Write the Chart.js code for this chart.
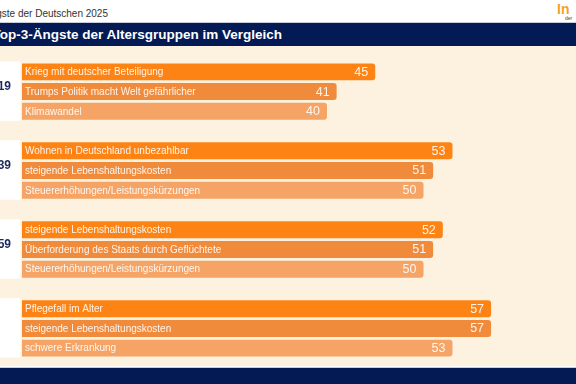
<!DOCTYPE html>
<html lang="de">
<head>
<meta charset="utf-8">
<title>Top-3-Ängste der Altersgruppen im Vergleich</title>
<script src="https://cdn.jsdelivr.net/npm/chart.js@4"></script>
<style>
  html, body { margin: 0; padding: 0; }
  body { width: 576px; height: 384px; overflow: hidden; position: relative; background: #fff;
         font-family: "Liberation Sans", Arial, sans-serif; }
  #sub { position: absolute; right: 468px; top: 9px; font-size: 10px; line-height: 10px; color: #333; white-space: nowrap; }
  #logo { position: absolute; left: 557px; top: 2px; font-size: 14px; line-height: 14px; font-weight: bold; color: #f5a21f; }
  #logo2 { position: absolute; left: 565px; top: 16px; font-size: 5px; line-height: 5px; color: #444; }
  #band { position: absolute; left: 0; top: 22px; width: 576px; height: 24px; background: #031a55; border-top: 1px solid #c9cdd9; box-sizing: border-box; }
  #title { position: absolute; right: 294px; top: 28px; font-size: 13.5px; line-height: 13px; font-weight: bold; color: #fff; white-space: nowrap; }
  #panel { position: absolute; left: 0; top: 46px; width: 576px; height: 320px; background: #fdf1df; }
  #foot { position: absolute; left: 0; top: 367px; width: 576px; height: 17px; background: #031a55; border-top: 1px solid #c9cdd9; box-sizing: border-box; }
</style>
</head>
<body>
<div id="sub">Ängste der Deutschen 2025</div>
<div id="logo">In</div>
<div id="logo2">der</div>
<div id="band"></div>
<div id="title">Top-3-Ängste der Altersgruppen im Vergleich</div>
<div id="panel"><canvas id="chart" width="576" height="320"></canvas></div>
<div id="foot"></div>
<script>
// Altersgruppen (nur der sichtbare Teil)
const groups = ['19', '39', '59', ''];

const fears19 = ['Krieg mit deutscher Beteiligung', 'Trumps Politik macht Welt gefährlicher', 'Klimawandel'];
const fears39 = ['Wohnen in Deutschland unbezahlbar', 'steigende Lebenshaltungskosten', 'Steuererhöhungen/Leistungskürzungen'];
const fears59 = ['steigende Lebenshaltungskosten', 'Überforderung des Staats durch Geflüchtete', 'Steuererhöhungen/Leistungskürzungen'];
const fearsOld = ['Pflegefall im Alter', 'steigende Lebenshaltungskosten', 'schwere Erkrankung'];

const values19 = [45, 41, 40];
const values39 = [53, 51, 50];
const values59 = [52, 51, 50];
const valuesOld = [57, 57, 53];

const rankColors = ['#fd8414', '#f18b3c', '#f5a465'];

const fearLists = [fears19, fears39, fears59, fearsOld];
const valueLists = [values19, values39, values59, valuesOld];

// zeilen bauen, leere zeile zwischen den gruppen
let rowLabels = [];
let rowValues = [];
let rowColors = [];
let rowGroup = [];
for (let g = 0; g < groups.length; g++) {
    for (let r = 0; r < 3; r++) {
        rowLabels.push(fearLists[g][r]);
        rowValues.push(valueLists[g][r]);
        rowColors.push(rankColors[r]);
        rowGroup.push(g);
    }
    if (g < groups.length - 1) {
        rowLabels.push('');
        rowValues.push(null);
        rowColors.push('rgba(0,0,0,0)');
        rowGroup.push(-1);
    }
}

const FONT = '"Liberation Sans", Arial, sans-serif';

const groupBoxes = {
    id: 'groupBoxes',
    beforeDatasetsDraw(chart) {
        const c = chart.ctx;
        const bars = chart.getDatasetMeta(0).data;
        for (let g = 0; g < groups.length; g++) {
            const idx = [];
            rowGroup.forEach((v, i) => { if (v === g) idx.push(i); });
            const first = bars[idx[0]], last = bars[idx[2]], mid = bars[idx[1]];
            const top = first.y - first.height / 2 - 2;
            const bottom = last.y + last.height / 2 + 1;
            c.save();
            c.fillStyle = '#ffffff';
            c.fillRect(0, top, chart.chartArea.left - 1.5, bottom - top);
            c.fillStyle = '#1c2a5c';
            c.font = 'bold 12px ' + FONT;
            c.textAlign = 'right';
            c.textBaseline = 'middle';
            c.fillText(groups[g], 11, mid.y - 5);
            c.restore();
        }
    }
};

const barTexts = {
    id: 'barTexts',
    afterDatasetsDraw(chart) {
        const c = chart.ctx;
        const bars = chart.getDatasetMeta(0).data;
        c.save();
        c.textBaseline = 'middle';
        bars.forEach((bar, i) => {
            if (rowValues[i] == null) return;
            c.fillStyle = 'rgba(255,255,255,0.9)';
            c.font = '10px ' + FONT;
            c.textAlign = 'left';
            c.fillText(rowLabels[i], chart.chartArea.left + 3, bar.y + 0.5);
            c.font = '12.5px ' + FONT;
            c.textAlign = 'right';
            c.fillText(String(rowValues[i]), bar.x - 7, bar.y + 0.5);
        });
        c.restore();
    }
};

const ctx = document.getElementById('chart').getContext('2d');
const myChart = new Chart(ctx, {
    type: 'bar',
    data: {
        labels: rowLabels,
        datasets: [{
            data: rowValues,
            backgroundColor: rowColors,
            borderRadius: 3,
            borderSkipped: 'start',
            barPercentage: 0.86,
            categoryPercentage: 1
        }]
    },
    options: {
        indexAxis: 'y',
        responsive: false,
        animation: false,
        layout: {
            padding: { left: 22, top: 16, bottom: 8, right: 0 }
        },
        scales: {
            x: { display: false, min: 8.4, max: 65.8 },
            y: { display: false }
        },
        plugins: {
            legend: { display: false },
            tooltip: { enabled: false }
        }
    },
    plugins: [groupBoxes, barTexts]
});
</script>
</body>
</html>
